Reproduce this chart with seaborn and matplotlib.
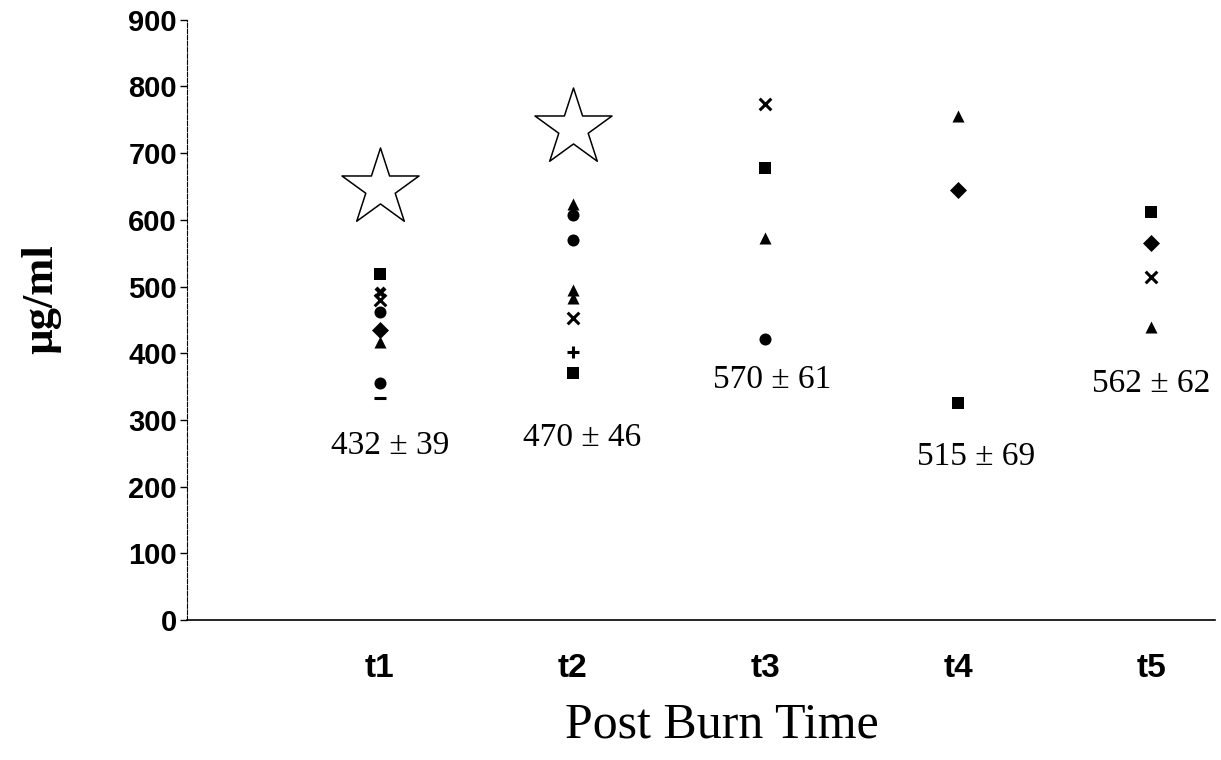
import matplotlib
matplotlib.use("Agg")
import matplotlib.pyplot as plt
import seaborn as sns
import pandas as pd

times = ["t1", "t2", "t3", "t4", "t5"]
t1_vals = [519, 492, 480, 462, 435, 417, 355, 333]
t1_marks = ["s", "X", "x", "o", "D", "^", "o", "_"]
t2_vals = [624, 607, 570, 495, 483, 453, 402, 370]
t2_marks = ["^", "o", "o", "^", "^", "x", "+", "s"]
t3_vals = [774, 678, 573, 422]
t3_marks = ["x", "s", "^", "o"]
t4_vals = [755, 645, 325]
t4_marks = ["^", "D", "s"]
t5_vals = [612, 565, 514, 440]
t5_marks = ["s", "D", "x", "^"]

# significance stars
star_times = ["t1", "t2"]
star_vals = [648, 738]

# mean +/- SE labels
labels = ["432 \u00b1 39", "470 \u00b1 46", "570 \u00b1 61", "515 \u00b1 69", "562 \u00b1 62"]

rows = []
for t, vals, marks in zip(times, [t1_vals, t2_vals, t3_vals, t4_vals, t5_vals],
                          [t1_marks, t2_marks, t3_marks, t4_marks, t5_marks]):
    for v, m in zip(vals, marks):
        rows.append({"time": t, "value": v, "mark": m})
df = pd.DataFrame(rows)
df["pos"] = df["time"].map({t: i for i, t in enumerate(times)})

sns.set_style("white")
plt.rcParams["text.color"] = "black"
plt.rcParams["xtick.color"] = "black"
plt.rcParams["ytick.color"] = "black"
plt.rcParams["axes.labelcolor"] = "black"

fig = plt.figure(figsize=(12.21, 7.6), dpi=100)
ax = fig.add_axes([0.153, 0.184, 0.842, 0.79])

# one call per marker shape (seaborn won't mix filled and line-art markers)
for m, sub in df.groupby("mark"):
    filled = m not in ("x", "+", "_")
    sns.scatterplot(data=sub, x="pos", y="value", marker=m, color="black",
                    s=75 if filled else 70, linewidth=0 if filled else 2.2,
                    edgecolor="black", legend=False, ax=ax)

star_df = pd.DataFrame({"pos": [times.index(t) for t in star_times], "value": star_vals})
sns.scatterplot(data=star_df, x="pos", y="value", marker="*", s=3400,
                facecolor="white", edgecolor="black", linewidth=1.1,
                legend=False, ax=ax)

# label placement (data coords), tuned by eye
label_dx = [0.052, 0.052, 0.036, 0.09, 0.0]
label_y = [262, 274, 360, 245, 354]
for i, txt in enumerate(labels):
    ax.text(i + label_dx[i], label_y[i], txt, ha="center", va="center", fontsize=24,
            family="Liberation Serif", color="black")

ax.set_xlim(-1, 4.33)
ax.set_ylim(0, 900)
ax.set_xticks(range(len(times)))
ax.set_xticklabels(times, fontsize=24, fontweight="bold", family="Liberation Sans")
ax.set_yticks(range(0, 901, 100))
ax.set_yticklabels([str(v) for v in range(0, 901, 100)], fontsize=21,
                   fontweight="bold", family="Liberation Sans")
ax.tick_params(axis="x", length=0, pad=24)
ax.tick_params(axis="y", length=5, width=1, direction="out", pad=2, left=True)

for side in ["top", "right"]:
    ax.spines[side].set_visible(False)
ax.spines["left"].set_linewidth(0.8)
ax.spines["left"].set_linestyle((0, (4, 1.5)))
ax.spines["bottom"].set_linewidth(1.2)
for side in ["left", "bottom"]:
    ax.spines[side].set_color("black")

ax.set_xlabel("Post Burn Time", fontsize=36, family="Liberation Serif")
ax.set_ylabel("\u00b5g/ml", fontsize=32, family="Liberation Serif", fontweight="bold")
ax.xaxis.set_label_coords(0.52, -0.137)
ax.yaxis.set_label_coords(-0.122, 0.535)

fig.savefig("out.png", dpi=100)
